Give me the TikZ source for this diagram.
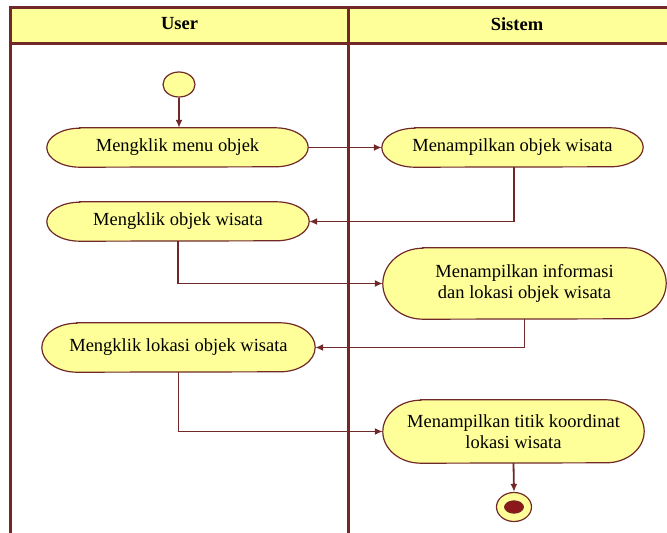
\documentclass[tikz,border=0pt]{standalone}
\usepackage{fontspec}
\setmainfont{Liberation Serif}
\usetikzlibrary{arrows.meta,backgrounds,shapes.geometric}
\definecolor{umlline}{RGB}{112,40,40}
\definecolor{umlfill}{RGB}{255,255,153}
\definecolor{umldot}{RGB}{140,25,25}
\newcommand\stadshape[3]{%
  \fill[umlfill] ([xshift=#2]#1.north west) -- ([xshift=-#2]#1.north east)
    arc[start angle=90,end angle=-90,x radius=#2,y radius=#3]
    -- ([xshift=#2]#1.south west)
    arc[start angle=270,end angle=90,x radius=#2,y radius=#3] -- cycle;
  \draw[actborder] ([xshift=#2]#1.north west) -- ([xshift=-#2]#1.north east)
    arc[start angle=90,end angle=-90,x radius=#2,y radius=#3]
    -- ([xshift=#2]#1.south west)
    arc[start angle=270,end angle=90,x radius=#2,y radius=#3] -- cycle;}
\tikzset{
  lane/.style={draw=umlline,line width=3pt},
  actbox/.style={inner sep=0pt,align=center,font=\fontsize{18.5}{21.5}\selectfont},
  actborder/.style={draw=umlline,line width=1.2pt},
  flow/.style={draw=umlline,line width=1.8pt,-{Latex[length=8pt,width=7pt]}},
  hdr/.style={font=\fontsize{18.5}{21}\selectfont\bfseries}
}
\begin{document}
\begin{tikzpicture}[x=1pt,y=-1pt]
\useasboundingbox (0,0) rectangle (667,533);
% swimlanes
\fill[umlfill] (10.5,7.5) rectangle (667,43);
\draw[lane] (667,7.5) -- (10.5,7.5) -- (10.5,533);
\draw[lane] (10.5,43) -- (667,43);
\draw[lane] (348.5,7.5) -- (348.5,533);
\node[hdr] (huser) at (179.5,24) {User};
\node[hdr] (hsis) at (517,24) {Sistem};
% start / end
\node[draw=umlline,fill=umlfill,line width=1.2pt,ellipse,minimum width=32pt,minimum height=25pt,inner sep=0pt] (start) at (179,84.5) {};
\node[draw=umlline,fill=umlfill,line width=1.2pt,ellipse,minimum width=35pt,minimum height=29pt,inner sep=0pt] (end) at (514,507) {};
\node[fill=umldot,draw=umlline,line width=0.8pt,ellipse,minimum width=19pt,minimum height=12.5pt,inner sep=0pt] (enddot) at (514,507) {};
% activities
\node[actbox,minimum width=261pt,minimum height=39pt] (n1) at (177.5,147.5) {Mengklik menu objek};
\node[actbox,minimum width=261pt,minimum height=39pt] (n2) at (512.5,147.5) {Menampilkan objek wisata};
\node[actbox,minimum width=262pt,minimum height=39pt] (n3) at (178,221.5) {Mengklik objek wisata};
\node[actbox,minimum width=283pt,minimum height=71pt] (n4) at (524.5,283.5) {Menampilkan informasi\\dan lokasi objek wisata};
\node[actbox,minimum width=273pt,minimum height=49pt] (n5) at (178.5,347.5) {Mengklik lokasi objek wisata};
\node[actbox,minimum width=261pt,minimum height=63pt] (n6) at (513.5,431.5) {Menampilkan titik koordinat\\lokasi wisata};
\begin{scope}[on background layer]
\stadshape{n1}{33pt}{19.5pt}
\stadshape{n2}{33pt}{19.5pt}
\stadshape{n3}{33pt}{19.5pt}
\stadshape{n4}{40pt}{35.5pt}
\stadshape{n5}{35pt}{24.5pt}
\stadshape{n6}{38pt}{31.5pt}
\end{scope}
% flows
\draw[flow] (start) -- (start |- n1.north);
\draw[flow] (n1.east) -- (n2.west);
\draw[flow] ([xshift=1.5pt]n2.south) |- (n3.east);
\draw[flow] (n3.south) |- (n4.west);
\draw[flow] (n4.south) |- (n5.east);
\draw[flow] (n5.south) |- (n6.west);
\draw[flow] (n6.south) -- (end.north);
\end{tikzpicture}
\end{document}
